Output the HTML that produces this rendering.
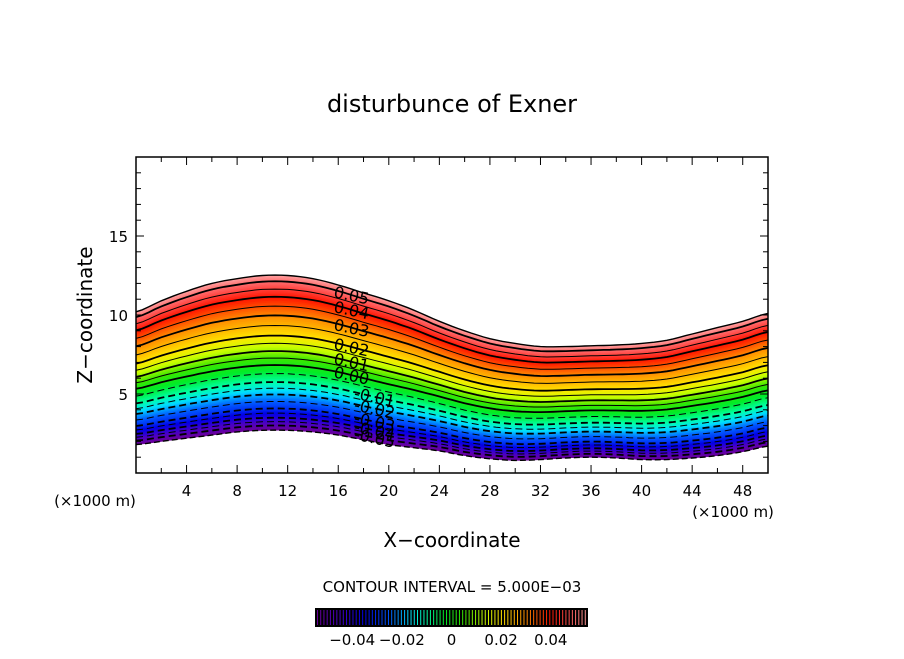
<!DOCTYPE html>
<html><head><meta charset="utf-8"><style>
body{margin:0;background:#fff}
svg text{font-family:"DejaVu Sans","Liberation Sans",sans-serif;fill:#000}
</style></head><body>
<svg id="c" width="904" height="654" xmlns="http://www.w3.org/2000/svg">
<text x="452" y="112" font-size="24" text-anchor="middle">disturbunce of Exner</text>
<g id="plot"></g>
<rect x="136" y="157" width="632" height="316" fill="none" stroke="#000" stroke-width="1.5"/>
<g id="axes"></g>
<text x="95" y="506" font-size="15" text-anchor="middle">(×1000 m)</text>
<text x="733" y="517" font-size="15" text-anchor="middle">(×1000 m)</text>
<text x="452" y="547" font-size="20" text-anchor="middle">X−coordinate</text>
<text transform="translate(92,315) rotate(-90)" font-size="20" text-anchor="middle">Z−coordinate</text>
<text x="452" y="592" font-size="15" text-anchor="middle">CONTOUR INTERVAL = 5.000E−03</text>
<g id="cbar"></g>
</svg>
<script>
const xs=[0,2,4,6,8,10,12,14,16,18,20,22,24,26,28,30,32,34,36,38,40,42,44,46,48,50];
const topZ=[10.2,10.9,11.5,12.0,12.3,12.5,12.5,12.3,11.9,11.4,10.9,10.3,9.6,9.0,8.5,8.2,8.0,8.0,8.05,8.1,8.2,8.4,8.8,9.2,9.6,10.1];
const botZ=[1.8,2.0,2.2,2.4,2.6,2.7,2.7,2.6,2.4,2.1,1.8,1.6,1.4,1.1,0.9,0.8,0.85,0.95,1.0,0.95,0.85,0.85,0.95,1.1,1.35,1.7];
const levVals=[-0.055,-0.05,-0.04,-0.03,-0.02,-0.01,0,0.01,0.02,0.03,0.04,0.05,0.055];
const levFrac=[0,0.03,0.08,0.14,0.23,0.31,0.42,0.51,0.61,0.74,0.86,0.96,1];
const labelVals=[0.05,0.04,0.03,0.02,0.01,0.00,-0.01,-0.02,-0.03,-0.04,-0.05];
const xTicks=[4,8,12,16,20,24,28,32,36,40,44,48];
const yTicks=[5,10,15];
const cbTicks=[-0.04,-0.02,0,0.02,0.04];
const X=v=>136+v*632/50, Y=v=>473+(-v)*316/20;
const NS='http://www.w3.org/2000/svg';
function mk(t,a,p){const e=document.createElementNS(NS,t);for(const k in a)e.setAttribute(k,a[k]);p.appendChild(e);return e;}
function frac(v){for(let i=0;i<levVals.length-1;i++){if(v<=levVals[i+1]){return levFrac[i]+(v-levVals[i])/(levVals[i+1]-levVals[i])*(levFrac[i+1]-levFrac[i]);}}return 1;}
const stops=[[-0.055,[110,0,150]],[-0.045,[70,0,200]],[-0.035,[0,0,230]],[-0.025,[0,90,255]],[-0.017,[0,220,255]],[-0.01,[0,255,170]],[-0.003,[0,235,40]],[0.005,[60,230,0]],[0.013,[200,255,0]],[0.02,[255,230,0]],[0.03,[255,140,0]],[0.04,[255,20,0]],[0.048,[255,90,90]],[0.055,[255,160,160]]];
function col(v){for(let i=0;i<stops.length-1;i++){if(v<=stops[i+1][0]){const t=(v-stops[i][0])/(stops[i+1][0]-stops[i][0]);const a=stops[i][1],b=stops[i+1][1];return 'rgb('+a.map((c,j)=>Math.round(c+(b[j]-c)*Math.max(0,t))).join(',')+')';}}return 'rgb(255,160,160)';}
// smooth sampled curve via Catmull-Rom interpolation of z over x
function zAtX(arr,x){const h=2;let i=Math.min(Math.floor(x/h),xs.length-2);const t=(x-xs[i])/h;
  const p0=arr[Math.max(i-1,0)],p1=arr[i],p2=arr[i+1],p3=arr[Math.min(i+2,arr.length-1)];
  return 0.5*((2*p1)+(-p0+p2)*t+(2*p0-5*p1+4*p2-p3)*t*t+(-p0+3*p1-3*p2+p3)*t*t*t);}
const fineX=[];for(let x=0;x<=50.0001;x+=0.5)fineX.push(Math.min(x,50));
function zf(x,f){const b=zAtX(botZ,x),t=zAtX(topZ,x);return b+(t-b)*f;}
function curve(f){return fineX.map(x=>[X(x).toFixed(1),Y(zf(x,f)).toFixed(1)]);}
const plot=document.getElementById('plot');
const step=0.001;
for(let v=-0.055;v<0.055-1e-9;v+=step){
  const a=curve(frac(v)),b=curve(frac(v+step)).reverse();
  const p=mk('polygon',{points:a.concat(b).map(q=>q.join(',')).join(' '),fill:col(v+step/2),stroke:col(v+step/2),'stroke-width':0.6},plot);
  
  
}
for(let k=-10;k<=10;k++){
  const v=k*0.005;const pts=curve(frac(v));
  const major=k%2===0;
  const l=mk('polyline',{points:pts.map(q=>q.join(',')).join(' '),fill:'none',stroke:'#000','stroke-width':major?1.8:1},plot);
  if(v<0)l.setAttribute('stroke-dasharray','7,4');
  
  
}
const tl=mk('polyline',{points:curve(1).map(q=>q.join(',')).join(' '),fill:'none',stroke:'#000','stroke-width':1.4},plot);


const bl=mk('polyline',{points:curve(0).map(q=>q.join(',')).join(' '),fill:'none',stroke:'#000','stroke-width':1.4,'stroke-dasharray':'6,3'},plot);


labelVals.forEach(v=>{
  const xv=v>=0?17:18.6;const f=frac(v);
  const y=Y(zf(xv,f));
  const t=mk('text',{x:X(xv)-17,y:y+6,'font-size':16,transform:'rotate(12 '+X(xv)+' '+y+')'},plot);
  t.textContent=v.toFixed(2);
  
  
});
const ax=document.getElementById('axes');
for(let v=2;v<50;v+=2){const len=(v%4===0)?8:5;const x=X(v);
  const a=mk('line',{x1:x,x2:x,y1:473,y2:473-len,stroke:'#000'},ax);
  const b=mk('line',{x1:x,x2:x,y1:157,y2:157+len,stroke:'#000'},ax);}
for(let v=1;v<20;v++){const len=(v%5===0)?8:5;const y=Y(v);
  const a=mk('line',{x1:136,x2:136+len,y1:y,y2:y,stroke:'#000'},ax);
  const b=mk('line',{x1:768,x2:768-len,y1:y,y2:y,stroke:'#000'},ax);}
xTicks.forEach(v=>{const t=mk('text',{x:X(v),y:496,'font-size':15,'text-anchor':'middle'},ax);t.textContent=v;
  });
yTicks.forEach(v=>{const t=mk('text',{x:128,y:Y(v)+6,'font-size':15,'text-anchor':'end'},ax);t.textContent=v;
  });
const cb=document.getElementById('cbar');
const cx0=315,cx1=588,cbv0=-0.055,cbv1=0.055;const CX=v=>cx0+(v-cbv0)/(cbv1-cbv0)*(cx1-cx0);
const r=mk('rect',{x:cx0,y:608,width:cx1-cx0,height:19,fill:'#000'},cb);
for(let v=-0.054;v<0.055;v+=0.0013){const l=mk('line',{x1:CX(v),x2:CX(v),y1:610,y2:625,stroke:col(v),'stroke-width':1},cb);
  }
cbTicks.forEach(v=>{const t=mk('text',{x:CX(v),y:645,'font-size':15,'text-anchor':'middle'},cb);t.textContent=v===0?'0':(v<0?'−':'')+Math.abs(v).toFixed(2);
  });
</script>
</body></html>
